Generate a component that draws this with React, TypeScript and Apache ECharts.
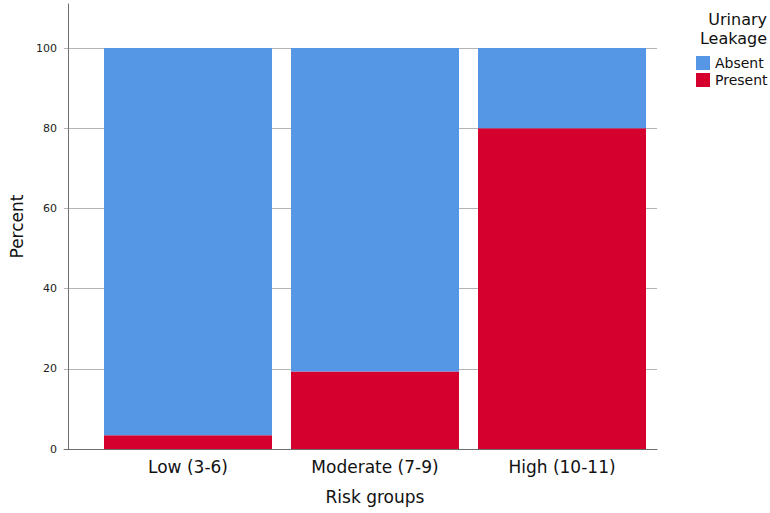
import React, { useEffect, useRef } from "react";
import * as echarts from "echarts";

const categories = ["Low (3-6)", "Moderate (7-9)", "High (10-11)"];
const presentValues = [3.4, 19.3, 80.0];
const absentValues = [96.6, 80.7, 20.0];
const seriesNames = ["Absent", "Present"];
const legendTitle = ["Urinary", "Leakage"];

const FONT = "DejaVu Sans";
const BLUE = "#5596e5";
const RED = "#d6002f";

export default function App() {
  const ref = useRef<HTMLDivElement>(null);
  useEffect(() => {
    if (!ref.current) return;
    const chart = echarts.init(ref.current, null, { renderer: "svg" });
    const option: any = {
      animation: false,
      backgroundColor: "#ffffff",
      textStyle: { fontFamily: FONT },
      grid: [
        { left: 64, right: 113, top: 48, bottom: 64 },
        { left: 64, right: 113, top: 4, bottom: 64 },
        { left: 94.5, width: 561, top: 48, bottom: 64 },
      ],
      xAxis: [
        {
          gridIndex: 0, type: "value", min: 0, max: 1,
          axisLine: { show: true, lineStyle: { color: "#6e6e6e", width: 1 } },
          axisTick: { show: false }, axisLabel: { show: false }, splitLine: { show: false },
        },
        {
          gridIndex: 1, type: "value", min: 0, max: 1, show: false,
        },
        {
          gridIndex: 2, type: "category", data: categories,
          axisLine: { show: false }, axisTick: { show: false },
          axisLabel: { fontFamily: FONT, fontSize: 17, color: "#111", margin: 9 },
          name: "Risk groups", nameLocation: "middle", nameGap: 39,
          nameTextStyle: { fontFamily: FONT, fontSize: 17, color: "#111" },
        },
      ],
      yAxis: [
        {
          gridIndex: 0, type: "value", min: 0, max: 100, interval: 20,
          axisLine: { show: false }, axisTick: { show: false },
          axisLabel: { fontFamily: FONT, fontSize: 11, color: "#222", margin: 7 },
          splitLine: { show: true, lineStyle: { color: "#b3b3b3", width: 1 } },
        },
        {
          gridIndex: 1, type: "value", min: 0, max: 1,
          axisLine: { show: true, lineStyle: { color: "#6e6e6e", width: 1 } },
          axisTick: { show: false }, axisLabel: { show: false }, splitLine: { show: false },
          name: "Percent", nameLocation: "middle", nameGap: 43,
          nameTextStyle: { fontFamily: FONT, fontSize: 17, color: "#111" },
        },
        {
          gridIndex: 2, type: "value", min: 0, max: 100, show: false,
        },
      ],
      legend: {
        orient: "vertical",
        left: 696,
        top: 55,
        padding: 0,
        itemWidth: 14,
        itemHeight: 14,
        itemGap: 1,
        icon: "rect",
        data: seriesNames,
        textStyle: { fontFamily: FONT, fontSize: 14, color: "#111", lineHeight: 16 },
      },
      graphic: [
        {
          type: "text", right: 3, top: 11,
          style: {
            text: legendTitle[0], fontFamily: FONT, fontSize: 16, lineHeight: 16,
            fill: "#111", align: "right",
          },
        },
        {
          type: "text", right: 3, top: 30,
          style: {
            text: legendTitle[1], fontFamily: FONT, fontSize: 16, lineHeight: 16,
            fill: "#111", align: "right",
          },
        },
      ],
      series: [
        {
          name: seriesNames[1], type: "bar", stack: "total",
          xAxisIndex: 2, yAxisIndex: 2, barWidth: 168,
          itemStyle: { color: RED }, data: presentValues,
        },
        {
          name: seriesNames[0], type: "bar", stack: "total",
          xAxisIndex: 2, yAxisIndex: 2, barWidth: 168,
          itemStyle: { color: BLUE }, data: absentValues,
        },
      ],
    };
    chart.setOption(option);
    return () => chart.dispose();
  }, []);
  return <div ref={ref} style={{ width: 770, height: 513, position: "absolute", left: 0, top: 0 }} />;
}
